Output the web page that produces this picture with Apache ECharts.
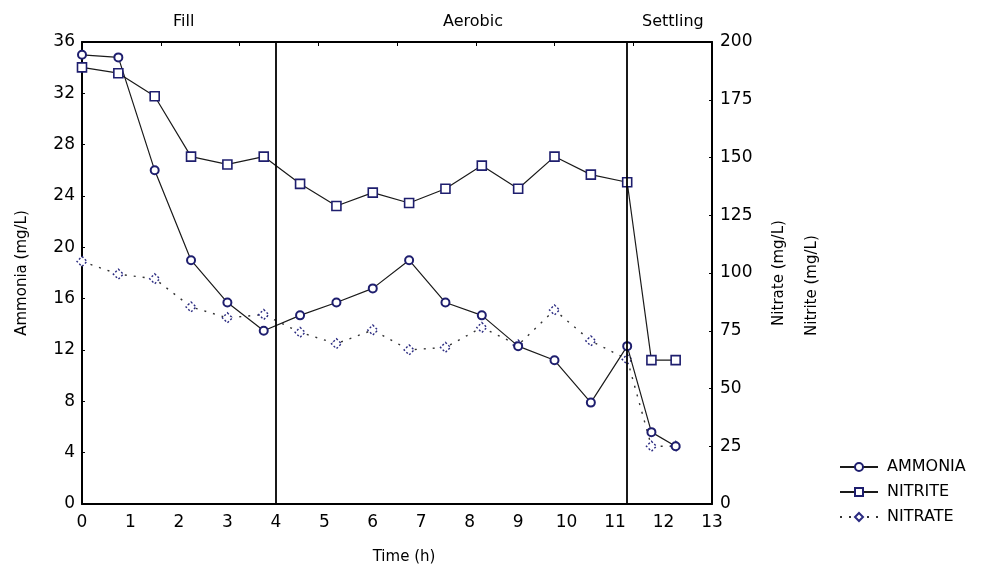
<!DOCTYPE html>
<html>
<head>
<meta charset="utf-8">
<script src="https://cdn.jsdelivr.net/npm/echarts@6/dist/echarts.min.js"></script>
<style>
  html, body { margin: 0; padding: 0; background: #fff; }
  #main { width: 989px; height: 570px; }
</style>
</head>
<body>
<div id="main"></div>
<script>
// sampling times (h)
var times = [0, 0.75, 1.5, 2.25, 3, 3.75, 4.5, 5.25, 6, 6.75, 7.5, 8.25, 9, 9.75, 10.5, 11.25, 11.75, 12.25]
// ammonia, left axis (mg/L)
var ammonia = [35.0, 34.8, 26.0, 19.0, 15.7, 13.5, 14.7, 15.7, 16.8, 19.0, 15.7, 14.7, 12.3, 11.2, 7.9, 12.3, 5.6, 4.5]
// nitrite and nitrate, right axis (mg/L)
var nitrite = [189, 186.5, 176.5, 150.4, 147, 150.4, 138.6, 129, 134.8, 130.3, 136.5, 146.5, 136.5, 150.4, 142.6, 139.3, 62.3, 62.3]
var nitrate = [105, 99.5, 97.5, 85.3, 80.6, 82, 74.3, 69.4, 75.3, 66.7, 67.8, 76.4, 68.8, 84, 70.6, 62.6, 25, 25]
// phase boundaries (h) and phase names
var phaseLines = [4, 11.25]
var phaseNames = ['Fill', 'Aerobic', 'Settling']

var font = 'DejaVu Sans'
var markerColor = '#1e1e6e'
var lineColor = '#1a1a1a'

function pairs(vals) {
    return times.map(function (t, i) { return [t, vals[i]] })
}

var chart = echarts.init(document.getElementById('main'))
chart.setOption({
    animation: false,
    grid: { left: 82, right: 277, top: 42, bottom: 62 },
    legend: {
        orient: 'vertical',
        left: 834,
        top: 454,
        itemWidth: 38,
        itemHeight: 10,
        itemGap: 9,
        textStyle: { fontFamily: font, fontSize: 16, color: '#000', padding: [0, 0, 0, 4] },
        data: ['AMMONIA', 'NITRITE', 'NITRATE']
    },
    graphic: [
        { type: 'text', left: 173, top: 14, style: { text: phaseNames[0], font: '16px ' + font, fill: '#000' } },
        { type: 'text', left: 443, top: 14, style: { text: phaseNames[1], font: '16px ' + font, fill: '#000' } },
        { type: 'text', left: 642, top: 14, style: { text: phaseNames[2], font: '16px ' + font, fill: '#000' } },
        // second name on the right side
        { type: 'text', x: 805, y: 336, rotation: Math.PI / 2,
          style: { text: 'Nitrite (mg/L)', font: '15px ' + font, fill: '#000' } }
    ],
    xAxis: [{
        type: 'value',
        position: 'bottom',
        min: 0,
        max: 13,
        interval: 1,
        name: 'Time (h)',
        nameLocation: 'middle',
        nameGap: 46,
        nameTextStyle: { fontFamily: font, fontSize: 15, color: '#000', padding: [0, 0, 0, 14] },
        axisLine: { onZero: false, lineStyle: { color: '#000', width: 2 } },
        axisTick: { show: false },
        axisLabel: { fontFamily: font, fontSize: 17, color: '#000', margin: 10 },
        splitLine: { show: false }
    }, {
        // top frame with its own tick marks
        type: 'value',
        position: 'top',
        min: 0,
        max: 8,
        interval: 1,
        axisLine: { onZero: false, lineStyle: { color: '#000', width: 2 } },
        axisTick: { inside: true, length: 4, lineStyle: { color: '#000' } },
        axisLabel: { show: false },
        splitLine: { show: false }
    }],
    yAxis: [{
        type: 'value',
        min: 0,
        max: 36,
        interval: 4,
        name: 'Ammonia (mg/L)',
        nameLocation: 'middle',
        nameRotate: 90,
        nameGap: 52,
        nameTextStyle: { fontFamily: font, fontSize: 15, color: '#000' },
        axisLine: { show: true, onZero: false, lineStyle: { color: '#000', width: 2 } },
        axisTick: { show: true, inside: true, length: 3, lineStyle: { color: '#000' } },
        axisLabel: { fontFamily: font, fontSize: 17, color: '#000', margin: 7 },
        splitLine: { show: false }
    }, {
        type: 'value',
        position: 'right',
        min: 0,
        max: 200,
        interval: 25,
        name: 'Nitrate (mg/L)',
        nameLocation: 'middle',
        nameRotate: 90,
        nameGap: 60,
        nameTextStyle: { fontFamily: font, fontSize: 15, color: '#000' },
        axisLine: { show: true, onZero: false, lineStyle: { color: '#000', width: 2 } },
        axisTick: { show: true, inside: true, length: 3, lineStyle: { color: '#000' } },
        axisLabel: { fontFamily: font, fontSize: 17, color: '#000', margin: 8 },
        splitLine: { show: false }
    }],
    series: [{
        name: 'AMMONIA',
        type: 'line',
        yAxisIndex: 0,
        data: pairs(ammonia),
        symbol: 'circle',
        symbolSize: 8,
        lineStyle: { color: lineColor, width: 1.2 },
        itemStyle: { color: '#fff', borderColor: markerColor, borderWidth: 2 },
        markLine: {
            silent: true,
            symbol: 'none',
            label: { show: false },
            lineStyle: { color: '#000', width: 1.8, type: 'solid' },
            data: phaseLines.map(function (x) { return { xAxis: x } })
        },
        z: 3
    }, {
        name: 'NITRITE',
        type: 'line',
        yAxisIndex: 1,
        data: pairs(nitrite),
        symbol: 'rect',
        symbolSize: 9,
        lineStyle: { color: lineColor, width: 1.2 },
        itemStyle: { color: '#fff', borderColor: markerColor, borderWidth: 1.6 },
        z: 3
    }, {
        name: 'NITRATE',
        type: 'line',
        yAxisIndex: 1,
        data: pairs(nitrate),
        symbol: 'diamond',
        symbolSize: 10,
        lineStyle: { color: '#333', width: 1.4, type: [2, 7] },
        itemStyle: { color: '#fff', borderColor: '#2a2a80', borderWidth: 1.4, borderType: [2, 2] },
        z: 2
    }]
})
</script>
</body>
</html>
